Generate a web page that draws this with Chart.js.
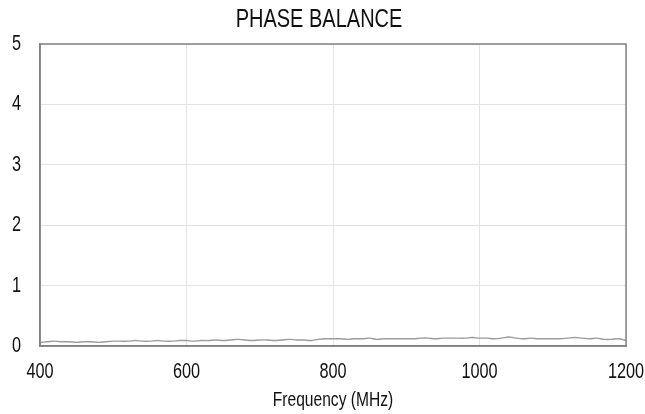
<!DOCTYPE html>
<html>
<head>
<meta charset="utf-8">
<script src="https://cdn.jsdelivr.net/npm/chart.js@4/dist/chart.umd.min.js"></script>
<style>
html,body{margin:0;padding:0;background:#fff;}
#wrap{width:645px;height:414px;position:relative;}
</style>
</head>
<body>
<div id="wrap"><canvas id="c" width="645" height="414"></canvas></div>
<script>
const frequencies = [400,410,420,430,440,450,460,470,480,490,500,510,520,530,540,550,560,570,580,590,600,610,620,630,640,650,660,670,680,690,700,710,720,730,740,750,760,770,780,790,800,810,820,830,840,850,860,870,880,890,900,910,920,930,940,950,960,970,980,990,1000,1010,1020,1030,1040,1050,1060,1070,1080,1090,1100,1110,1120,1130,1140,1150,1160,1170,1180,1190,1200];
const phaseBalance = [0.06,0.07,0.08,0.07,0.07,0.06,0.07,0.07,0.06,0.07,0.08,0.08,0.08,0.09,0.08,0.08,0.09,0.08,0.08,0.09,0.09,0.08,0.09,0.09,0.10,0.09,0.10,0.11,0.10,0.09,0.10,0.10,0.09,0.10,0.11,0.10,0.10,0.09,0.11,0.12,0.12,0.12,0.11,0.12,0.12,0.13,0.11,0.12,0.12,0.12,0.12,0.12,0.13,0.13,0.12,0.13,0.13,0.13,0.13,0.14,0.13,0.13,0.12,0.13,0.15,0.13,0.12,0.13,0.12,0.12,0.12,0.12,0.13,0.14,0.13,0.12,0.13,0.11,0.11,0.12,0.09];
const xTicks = [400,600,800,1000,1200];
const yTicks = [0,1,2,3,4,5];
const titleText = 'PHASE BALANCE';
const xTitle = 'Frequency (MHz)';

const FONT = '"Liberation Sans", Arial, sans-serif';
const TICK_SIZE = 22;

const canvas = document.getElementById('c');
const ctx = canvas.getContext('2d');
// condensed text rendering: scale glyphs horizontally around their anchor
function condense() {
  const m = /([\d.]+)px/.exec(ctx.font);
  const s = m ? parseFloat(m[1]) : 12;
  return Math.abs(s - TICK_SIZE) < 0.6 ? 0.74 : 0.8;
}
const origFill = ctx.fillText.bind(ctx);
const origMeasure = ctx.measureText.bind(ctx);
ctx.fillText = function(t, x, y, mw) {
  const sx = condense();
  ctx.save();
  ctx.translate(x, y);
  ctx.scale(sx, 1);
  if (mw !== undefined) origFill(t, 0, 0, mw / sx); else origFill(t, 0, 0);
  ctx.restore();
};
ctx.measureText = function(t) {
  const m = origMeasure(t);
  return {width: m.width * condense(), actualBoundingBoxAscent: m.actualBoundingBoxAscent, actualBoundingBoxDescent: m.actualBoundingBoxDescent};
};

new Chart(ctx, {
  type: 'line',
  data: {
    datasets: [{
      data: frequencies.map((f,i)=>({x:f,y:phaseBalance[i]})),
      borderColor: '#9c9c9c',
      borderWidth: 1.4,
      pointRadius: 0,
      tension: 0.3,
      fill: false
    }]
  },
  options: {
    responsive: false,
    animation: false,
    layout: {padding: {left: 12, right: 19, top: 0, bottom: 0}},
    plugins: {
      legend: {display: false},
      tooltip: {enabled: false},
      title: {
        display: true,
        text: titleText,
        color: '#111',
        font: {family: FONT, size: 25, weight: 'normal'},
        padding: {top: 5, bottom: 9}
      }
    },
    scales: {
      x: {
        type: 'linear',
        min: 400, max: 1200,
        afterBuildTicks: (ax)=>{ ax.ticks = xTicks.map(v=>({value:v})); },
        afterFit: (ax)=>{ ax.paddingLeft = 0; ax.paddingRight = 0; ax.height = 68; },
        grid: {color: '#e4e4e4', lineWidth: 1, drawTicks: false},
        border: {color: '#808080', width: 1.5},
        ticks: {color: '#111', font: {family: FONT, size: TICK_SIZE}, padding: 13, maxRotation: 0,
                callback: (v)=>String(v)},
        title: {display: true, text: xTitle, color: '#111', font: {family: FONT, size: 19.5}, padding: {top: 0, bottom: 2}}
      },
      y: {
        min: 0, max: 5,
        afterBuildTicks: (ax)=>{ ax.ticks = yTicks.map(v=>({value:v})); },
        afterFit: (ax)=>{ ax.width = 28; ax.paddingTop = 0; ax.paddingBottom = 0; },
        grid: {color: '#e4e4e4', lineWidth: 1, drawTicks: false},
        border: {color: '#808080', width: 1.5},
        ticks: {color: '#111', font: {family: FONT, size: TICK_SIZE}, padding: 19, callback: (v)=>String(v)}
      }
    }
  },
  plugins: [{
    id: 'frame',
    afterDatasetsDraw(chart) {
      const {ctx, chartArea: a} = chart;
      ctx.save();
      ctx.strokeStyle = '#808080';
      ctx.lineWidth = 1.5;
      ctx.strokeRect(a.left, a.top, a.right - a.left, a.bottom - a.top);
      ctx.restore();
    }
  }]
});
</script>
</body>
</html>
